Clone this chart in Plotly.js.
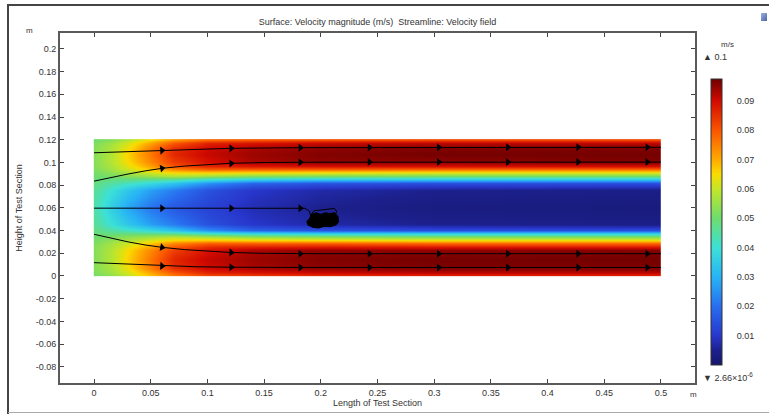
<!DOCTYPE html>
<html>
<head>
<meta charset="utf-8">
<script src="https://cdn.plot.ly/plotly-3.0.1.min.js"></script>
<style>
  html, body { margin: 0; padding: 0; background: #fff; }
  #wrap { position: relative; width: 769px; height: 414px; overflow: hidden; }
  #chart { position: absolute; left: 0; top: 0; width: 769px; height: 414px; }
  .fr { position: absolute; pointer-events: none; }
</style>
</head>
<body>
<div id="wrap">
  <div id="chart"></div>
  <div class="fr" style="left:8px;top:4px;width:761px;height:2px;background:#444;"></div>
  <div class="fr" style="left:7px;top:4px;width:2px;height:410px;background:#444;"></div>
  <div class="fr" style="left:8px;top:412px;width:761px;height:1px;background:#aaa;"></div>
  <div class="fr" style="left:761px;top:13px;width:6px;height:8px;background:linear-gradient(135deg,#9fb3e0,#4a63a8);"></div>
</div>
<script>
// ---- Field grid (velocity magnitude, m/s) ----
const X_COLS = [0, 0.015, 0.03, 0.05, 0.07, 0.1, 0.14, 0.2, 0.3, 0.5];
const Y_ROWS = [0, 0.001, 0.003, 0.007, 0.015, 0.023, 0.0258, 0.0288, 0.0317, 0.035, 0.0376, 0.0405, 0.046,
                0.061, 0.076, 0.082, 0.085, 0.088, 0.091, 0.094, 0.097, 0.1, 0.107, 0.113, 0.117, 0.119, 0.12];
const SPEED = [
  [0.050,0.053,0.058,0.065,0.072,0.078,0.080,0.081,0.082,0.082],
  [0.051,0.054,0.060,0.068,0.076,0.082,0.084,0.086,0.087,0.087],
  [0.052,0.056,0.062,0.071,0.080,0.087,0.089,0.091,0.092,0.092],
  [0.053,0.057,0.064,0.075,0.085,0.090,0.093,0.095,0.096,0.096],
  [0.053,0.058,0.066,0.076,0.086,0.091,0.094,0.096,0.097,0.097],
  [0.053,0.058,0.065,0.074,0.083,0.089,0.093,0.095,0.095,0.096],
  [0.053,0.057,0.063,0.071,0.080,0.086,0.088,0.089,0.089,0.089],
  [0.052,0.056,0.061,0.067,0.074,0.079,0.079,0.079,0.078,0.078],
  [0.051,0.054,0.057,0.062,0.066,0.067,0.066,0.065,0.064,0.064],
  [0.050,0.051,0.053,0.055,0.057,0.055,0.052,0.051,0.050,0.050],
  [0.049,0.048,0.048,0.047,0.046,0.041,0.037,0.035,0.035,0.035],
  [0.048,0.045,0.042,0.038,0.033,0.025,0.018,0.015,0.014,0.014],
  [0.046,0.040,0.034,0.027,0.022,0.015,0.010,0.007,0.005,0.004],
  [0.044,0.036,0.028,0.021,0.016,0.012,0.008,0.005,0.003,0.0025],
  [0.046,0.040,0.034,0.027,0.022,0.015,0.010,0.007,0.005,0.004],
  [0.048,0.045,0.042,0.038,0.033,0.025,0.018,0.015,0.014,0.014],
  [0.049,0.048,0.048,0.047,0.046,0.041,0.037,0.035,0.035,0.035],
  [0.050,0.051,0.053,0.055,0.057,0.055,0.052,0.051,0.050,0.050],
  [0.051,0.054,0.057,0.062,0.066,0.067,0.066,0.065,0.064,0.064],
  [0.052,0.056,0.061,0.067,0.074,0.079,0.079,0.079,0.078,0.078],
  [0.053,0.057,0.063,0.071,0.080,0.086,0.088,0.089,0.089,0.089],
  [0.053,0.058,0.065,0.074,0.083,0.089,0.093,0.095,0.095,0.096],
  [0.053,0.058,0.066,0.076,0.086,0.091,0.094,0.096,0.097,0.097],
  [0.053,0.057,0.064,0.075,0.085,0.090,0.093,0.095,0.096,0.096],
  [0.052,0.056,0.062,0.071,0.080,0.087,0.089,0.091,0.092,0.092],
  [0.051,0.054,0.060,0.068,0.076,0.082,0.084,0.086,0.087,0.087],
  [0.050,0.053,0.058,0.065,0.072,0.078,0.080,0.081,0.082,0.082]
];
const SPEED_MIN = 0, SPEED_MAX = 0.0975;

// ---- Streamlines ----
const S1_X = [0, 0.02, 0.04, 0.06, 0.09, 0.12, 0.18, 0.25, 0.5];
const S1_Y = [0.1085, 0.1092, 0.1099, 0.1105, 0.1117, 0.1124, 0.1130, 0.1132, 0.1133];
const S2_X = [0, 0.01, 0.02, 0.03, 0.045, 0.06, 0.08, 0.1, 0.12, 0.15, 0.2, 0.5];
const S2_Y = [0.0835, 0.0858, 0.0878, 0.0898, 0.0925, 0.0948, 0.0968, 0.0983, 0.0992, 0.0999, 0.1002, 0.1003];
const S3_X = [0, 0.1, 0.186, 0.19, 0.191];
const S3_Y = [0.0597, 0.0597, 0.0596, 0.057, 0.053];
const S4_X = [0, 0.01, 0.02, 0.03, 0.045, 0.06, 0.08, 0.1, 0.12, 0.15, 0.2, 0.5];
const S4_Y = [0.0367, 0.0343, 0.0320, 0.0300, 0.0273, 0.0252, 0.0232, 0.0217, 0.0207, 0.0199, 0.0196, 0.0196];
const S5_X = [0, 0.02, 0.04, 0.06, 0.09, 0.12, 0.18, 0.5];
const S5_Y = [0.0117, 0.0108, 0.0097, 0.0088, 0.0081, 0.0077, 0.0075, 0.0075];
// tangled end of the centre streamline
const KNOT_X = [0.190, 0.192, 0.196, 0.200, 0.204, 0.208, 0.212, 0.215, 0.2155, 0.213, 0.208, 0.203, 0.198, 0.193, 0.189, 0.188, 0.190];
const KNOT_Y = [0.050, 0.054, 0.0555, 0.054, 0.0555, 0.0548, 0.0555, 0.052, 0.048, 0.045, 0.0435, 0.044, 0.0425, 0.043, 0.045, 0.048, 0.050];
const LOOP_X = [0.191, 0.194, 0.200, 0.206, 0.212, 0.214, 0.213];
const LOOP_Y = [0.053, 0.0575, 0.058, 0.0585, 0.0595, 0.057, 0.054];

// arrow heads
const ARROW_X = [0.06, 0.121, 0.182, 0.243, 0.304, 0.365, 0.427, 0.488];
const A1_Y = [0.1105, 0.1124, 0.1130, 0.1132, 0.1133, 0.1133, 0.1133, 0.1133];
const A2_Y = [0.0948, 0.0992, 0.1001, 0.1003, 0.1003, 0.1003, 0.1003, 0.1003];
const A3_X = [0.06, 0.121, 0.182];
const A3_Y = [0.0597, 0.0597, 0.0597];
const A4_Y = [0.0252, 0.0207, 0.0196, 0.0196, 0.0196, 0.0196, 0.0196, 0.0196];
const A5_Y = [0.0088, 0.0077, 0.0075, 0.0075, 0.0075, 0.0075, 0.0075, 0.0075];

// ---- Ticks ----
const X_TICKS = [0, 0.05, 0.1, 0.15, 0.2, 0.25, 0.3, 0.35, 0.4, 0.45, 0.5];
const X_TICK_TEXT = ['0', '0.05', '0.1', '0.15', '0.2', '0.25', '0.3', '0.35', '0.4', '0.45', '0.5'];
const Y_TICKS = [-0.08, -0.06, -0.04, -0.02, 0, 0.02, 0.04, 0.06, 0.08, 0.1, 0.12, 0.14, 0.16, 0.18, 0.2];
const Y_TICK_TEXT = ['-0.08', '-0.06', '-0.04', '-0.02', '0', '0.02', '0.04', '0.06', '0.08', '0.1', '0.12', '0.14', '0.16', '0.18', '0.2'];
const CB_TICKS = [0.01, 0.02, 0.03, 0.04, 0.05, 0.06, 0.07, 0.08, 0.09];
const CB_TICK_TEXT = ['0.01', '0.02', '0.03', '0.04', '0.05', '0.06', '0.07', '0.08', '0.09'];

// ---- Build heatmap table (edge columns repeated so the image stops at the channel ends) ----
const nX = X_COLS.length;
const hx = [X_COLS[0], X_COLS[0] + 0.0004].concat(X_COLS.slice(1, -1), [X_COLS[nX - 1] - 0.0004, X_COLS[nX - 1]]);
const hz = SPEED.map(r => [r[0], r[0]].concat(r.slice(1, -1), [r[nX - 1], r[nX - 1]]));

const FONT = 'Liberation Sans, Arial, sans-serif';
const TXT = '#333';

const colorscale = [
  [0, 'rgb(22,22,110)'],
  [0.05, 'rgb(28,32,140)'],
  [0.103, 'rgb(40,55,205)'],
  [0.205, 'rgb(40,110,240)'],
  [0.308, 'rgb(40,180,245)'],
  [0.41, 'rgb(60,225,215)'],
  [0.513, 'rgb(110,220,110)'],
  [0.615, 'rgb(195,230,40)'],
  [0.667, 'rgb(250,220,0)'],
  [0.718, 'rgb(255,170,0)'],
  [0.82, 'rgb(250,85,0)'],
  [0.923, 'rgb(210,10,0)'],
  [1, 'rgb(110,0,0)']
];

const lineStyle = {color: 'black', width: 1};
function sl(x, y) { return {type: 'scatter', mode: 'lines', x: x, y: y, line: lineStyle, hoverinfo: 'skip'}; }
function arrows(x, y, ang) {
  return {type: 'scatter', mode: 'markers', x: x, y: y, hoverinfo: 'skip',
          marker: {symbol: 'triangle-right', size: 7, color: 'black', angle: ang, line: {width: 0}}};
}

const traces = [
  {
    type: 'heatmap', x: hx, y: Y_ROWS, z: hz, zsmooth: 'best',
    zmin: SPEED_MIN, zmax: SPEED_MAX, colorscale: colorscale, hoverinfo: 'skip',
    colorbar: {
      x: (711 - 60) / 635, xanchor: 'left', xpad: 0,
      y: (383 - 365) / 350, yanchor: 'bottom', ypad: 0,
      lenmode: 'pixels', len: 286, thickness: 11,
      outlinecolor: '#333', outlinewidth: 1,
      tickmode: 'array', tickvals: CB_TICKS, ticktext: CB_TICK_TEXT,
      ticks: 'outside', ticklen: 13, tickcolor: 'rgba(0,0,0,0)',
      tickfont: {family: FONT, size: 9, color: TXT}
    }
  },
  sl(S1_X, S1_Y), sl(S2_X, S2_Y), sl(S3_X, S3_Y), sl(S4_X, S4_Y), sl(S5_X, S5_Y),
  {type: 'scatter', mode: 'lines', x: KNOT_X, y: KNOT_Y, fill: 'toself', fillcolor: 'black', line: {color: 'black', width: 1.5}, hoverinfo: 'skip'},
  sl(LOOP_X, LOOP_Y),
  arrows(ARROW_X, A1_Y, [-3, -1, 0, 0, 0, 0, 0, 0]),
  arrows(ARROW_X, A2_Y, [-10, -3, 0, 0, 0, 0, 0, 0]),
  arrows(A3_X, A3_Y, [0, 0, 0]),
  arrows(ARROW_X, A4_Y, [10, 3, 0, 0, 0, 0, 0, 0]),
  arrows(ARROW_X, A5_Y, [3, 1, 0, 0, 0, 0, 0, 0])
];

const axisCommon = {
  showline: true, mirror: 'ticks', linecolor: '#5a5a5a', linewidth: 2,
  ticks: 'inside', ticklen: 4, tickwidth: 1, tickcolor: '#444',
  showgrid: false, zeroline: false, tickmode: 'array',
  tickfont: {family: FONT, size: 9, color: TXT}
};

const layout = {
  width: 769, height: 414,
  margin: {l: 60, r: 74, t: 33, b: 31},
  paper_bgcolor: '#fff', plot_bgcolor: '#fff',
  showlegend: false,
  font: {family: FONT, size: 9, color: TXT},
  title: {
    text: 'Surface: Velocity magnitude (m/s)\u00a0\u00a0Streamline: Velocity field',
    x: 0.5, xref: 'paper', y: 1 - 22 / 414, yref: 'container', yanchor: 'middle',
    font: {family: FONT, size: 9, color: TXT}
  },
  xaxis: Object.assign({}, axisCommon, {
    range: [-0.030, 0.530], tickvals: X_TICKS, ticktext: X_TICK_TEXT,
    title: {text: 'Length of Test Section', standoff: 2, font: {family: FONT, size: 9, color: TXT}}
  }),
  yaxis: Object.assign({}, axisCommon, {
    range: [-0.0943, 0.214], tickvals: Y_TICKS, ticktext: Y_TICK_TEXT,
    title: {text: 'Height of Test Section', standoff: 12, font: {family: FONT, size: 9, color: TXT}}
  }),
  annotations: [
    {text: 'm', xref: 'paper', yref: 'paper', x: (29 - 60) / 635, y: (383 - 31) / 350, showarrow: false, xanchor: 'center', yanchor: 'middle', font: {size: 8, color: TXT}},
    {text: 'm', xref: 'paper', yref: 'paper', x: (693 - 60) / 635, y: (383 - 394) / 350, showarrow: false, xanchor: 'center', yanchor: 'middle', font: {size: 8, color: TXT}},
    {text: 'm/s', xref: 'paper', yref: 'paper', x: (727 - 60) / 635, y: (383 - 44) / 350, showarrow: false, xanchor: 'center', yanchor: 'middle', font: {size: 8, color: TXT}},
    {text: '\u25B2 0.1', xref: 'paper', yref: 'paper', x: (701 - 60) / 635, y: (383 - 57) / 350, showarrow: false, xanchor: 'left', yanchor: 'middle', font: {size: 9, color: TXT}},
    {text: '\u25BC 2.66\u00d710<sup>-6</sup>', xref: 'paper', yref: 'paper', x: (701 - 60) / 635, y: (383 - 377) / 350, showarrow: false, xanchor: 'left', yanchor: 'middle', font: {size: 9, color: TXT}}
  ]
};

Plotly.newPlot('chart', traces, layout, {displayModeBar: false, staticPlot: true});
</script>
</body>
</html>
